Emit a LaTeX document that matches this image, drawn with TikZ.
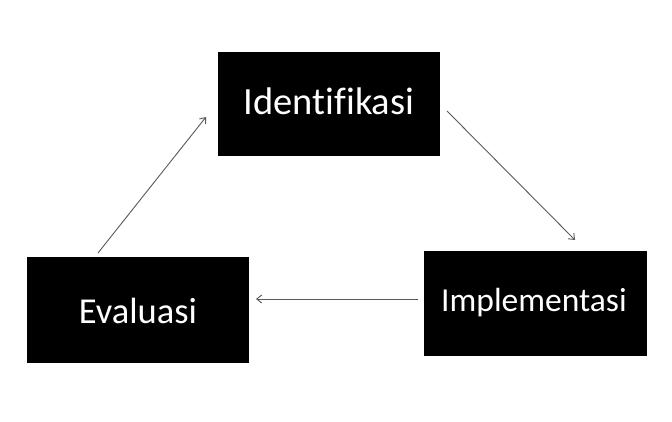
\documentclass[tikz,border=0pt]{standalone}
\usepackage{fontspec}
\setmainfont[Ligatures=NoCommon]{Carlito}
\usetikzlibrary{arrows.meta}
\tikzset{
  blackbox/.style={draw=none, fill=black, inner sep=0pt},
  boxtext/.style={text=white, inner sep=0pt, anchor=center},
  flow/.style={draw=black!65, line width=0.9pt, -{Straight Barb[length=5pt,width=8pt,line width=0.9pt]}}
}
\begin{document}
\begin{tikzpicture}[x=1pt,y=-1pt]
\useasboundingbox (0,0) rectangle (672,422);
\fill[white] (0,0) rectangle (672,422);
% boxes
\path[blackbox] (218,52) rectangle (440,156);
\path[blackbox] (27,257) rectangle (249,363);
\path[blackbox] (424,251) rectangle (647,356);
\node[boxtext, font=\fontsize{38.5}{44}\selectfont] (ident) at (329,101) {Identifikasi};
\node[boxtext, font=\fontsize{36.5}{42}\selectfont] (eval) at (138,311) {Evaluasi};
\node[boxtext, font=\fontsize{33.5}{38}\selectfont] (impl) at (534,303) {Implementasi};
\coordinate (a1) at (98,253);
\coordinate (b1) at (206,117);
\coordinate (a2) at (447,111);
\coordinate (b2) at (575,240);
\coordinate (a3) at (418,299);
\coordinate (b3) at (256,299);
\draw[flow] (a1) -- (b1);
\draw[flow] (a2) -- (b2);
\draw[flow] (a3) -- (b3);
\end{tikzpicture}
\end{document}
